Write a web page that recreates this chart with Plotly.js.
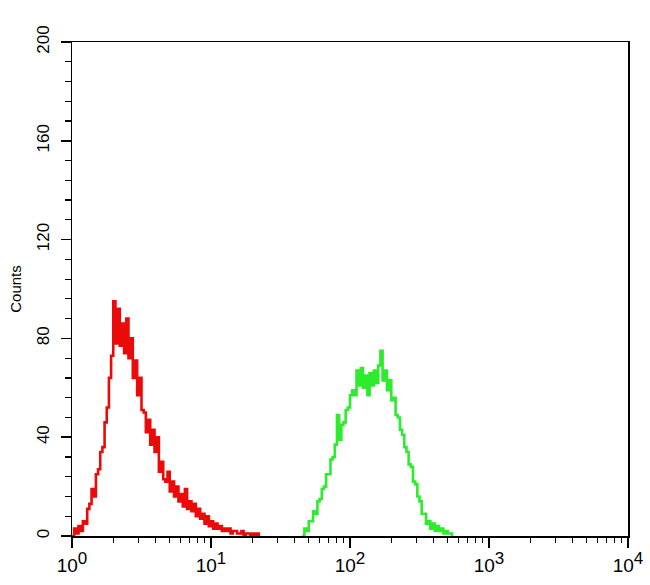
<!DOCTYPE html>
<html>
<head>
<meta charset="utf-8">
<script src="https://cdn.plot.ly/plotly-3.0.1.min.js"></script>
<style>html,body{margin:0;padding:0;background:#fff;}#chart{width:650px;height:585px;}</style>
</head>
<body>
<div id="chart"></div>
<script>
// Channel numbers (256 channels per decade, 4-decade log scale) and counts
const redChannels = [0,4,8,12,16,20,24,28,32,36,40,44,48,52,56,60,64,68,72,76,80,84,88,92,96,100,104,108,112,116,120,124,128,132,136,140,144,148,152,156,160,164,168,172,176,180,184,188,192,196,200,204,208,212,216,220,224,228,232,236,240,244,248,252,256,260,264,268,272,276,280,284,288,292,296,300,304,308,312,316,320,324,328,332,336,340,344];
const redCounts = [0,3,1,4,2,6,5,11,13,19,16,25,27,34,36,46,52,64,73,95,78,92,77,86,74,88,72,80,64,71,57,64,51,50,42,47,37,43,34,40,26,30,23,22,26,18,22,16,20,14,17,12,19,11,14,10,13,8,11,7,9,5,8,4,6,3,5,3,4,2,3,2,3,1,2,2,1,1,2,0,1,1,0,1,0,1,0];
const greenChannels = [424,428,432,436,440,444,448,452,456,460,464,468,472,476,480,484,488,492,496,500,504,508,512,516,520,524,528,532,536,540,544,548,552,556,560,564,568,572,576,580,584,588,592,596,600,604,608,612,616,620,624,628,632,636,640,644,648,652,656,660,664,668,672,676,680,684,688,692,696,700];
const greenCounts = [0,3,2,6,6,10,9,14,15,19,20,25,25,31,32,37,49,39,45,46,51,52,57,59,57,67,61,68,60,65,57,66,61,67,62,69,75,63,67,59,63,55,56,49,48,43,41,36,34,29,28,22,21,16,14,9,9,5,6,3,5,2,4,2,3,1,2,1,1,0];
const yTickVals = [0,40,80,120,160,200];
const xTickVals = [1,10,100,1000,10000];
const xTickExp = ['0','1','2','3','4'];

const chToIntensity = ch => Math.pow(10, ch / 256);
const minorVals = [];
for (let d = 0; d < 4; d++) for (let m = 2; m <= 9; m++) minorVals.push(m * Math.pow(10, d));
const xTickText = xTickExp.map(e => '10<span style="font-size:17px;baseline-shift:45%">' + e + '</span>');

const font = 'Liberation Sans, Arial, sans-serif';
const traces = [
  {x: redChannels.map(chToIntensity), y: redCounts, mode: 'lines', line: {color: 'rgb(235,10,10)', width: 2.6, shape: 'hv'}, hoverinfo: 'skip'},
  {x: greenChannels.map(chToIntensity), y: greenCounts, mode: 'lines', line: {color: 'rgb(45,235,45)', width: 2.6, shape: 'hv'}, hoverinfo: 'skip'},
  {x: [1], y: [0], xaxis: 'x2', mode: 'markers', marker: {opacity: 0}, hoverinfo: 'skip'}
];
const layout = {
  width: 650, height: 585,
  margin: {l: 72, r: 22, t: 42, b: 49},
  paper_bgcolor: '#fff', plot_bgcolor: '#fff',
  showlegend: false,
  font: {family: font, color: '#000'},
  xaxis: {
    type: 'log', range: [0, 4], tickvals: xTickVals, ticktext: xTickText,
    ticks: 'outside', ticklen: 10, tickwidth: 1.5, tickcolor: '#000',
    showline: true, linecolor: '#000', linewidth: 1.5, mirror: true,
    showgrid: false, zeroline: false, tickfont: {size: 19, family: font},
    ticklabelstandoff: 2
  },
  xaxis2: {
    type: 'log', range: [0, 4], overlaying: 'x', side: 'bottom', tickvals: minorVals,
    ticks: 'outside', ticklen: 6, tickwidth: 1.2, tickcolor: '#000',
    showticklabels: false, showgrid: false, zeroline: false, showline: false
  },
  yaxis: {
    range: [0, 200], tickvals: yTickVals, tickangle: -90,
    ticks: 'outside', ticklen: 10, tickwidth: 1.5, tickcolor: '#000',
    minor: {dtick: 8, ticks: 'outside', ticklen: 6, tickwidth: 1.2, tickcolor: '#000', showgrid: false},
    showline: true, linecolor: '#000', linewidth: 1.5, mirror: true,
    showgrid: false, zeroline: false, tickfont: {size: 17, family: font},
    ticklabelstandoff: 5,
    title: {text: 'Counts', font: {size: 15, family: font}, standoff: 8}
  }
};
Plotly.newPlot('chart', traces, layout, {displayModeBar: false, staticPlot: true});
</script>
</body>
</html>
